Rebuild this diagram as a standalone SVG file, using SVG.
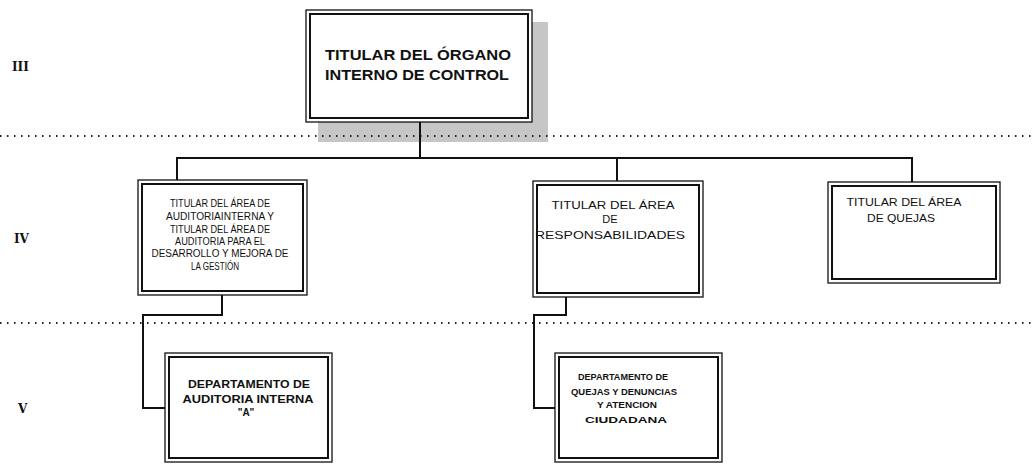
<svg xmlns="http://www.w3.org/2000/svg" width="1032" height="465" viewBox="0 0 1032 465">
<style>
.o{fill:none;stroke:#111;stroke-width:1.3}
.i{fill:none;stroke:#111;stroke-width:2}
.bg{fill:#fff}
.c{fill:none;stroke:#111;stroke-width:2}
.dot{fill:none;stroke:#222;stroke-width:2;stroke-dasharray:1.5 5.5}
.lv{font-family:"DejaVu Serif",serif;font-weight:bold;font-size:12px;fill:#111}
.t{font-family:"Liberation Sans",Arial,sans-serif;fill:#111;text-anchor:middle}
.b{font-family:"Liberation Sans",Arial,sans-serif;fill:#111;font-weight:bold}
</style>
<rect width="1032" height="465" fill="#fff"/>
<g id="shadow"><rect x="318" y="22" width="230" height="120" fill="#c6c6c6"/></g>
<g id="levels">
<line class="dot" x1="0" y1="136" x2="1032" y2="136"/>
<line class="dot" x1="0" y1="323" x2="1032" y2="323"/>
<text class="lv" x="12" y="71">III</text>
<text class="lv" x="14" y="243">IV</text>
<text class="lv" x="18" y="413">V</text>
</g>
<g id="connectors">
<polyline class="c" points="420,122 420,158"/>
<polyline class="c" points="177,180 177,158 912,158 912,182"/>
<polyline class="c" points="617,158 617,181"/>
<polyline class="c" points="222,295 222,315 143,315 143,408 165,408"/>
<polyline class="c" points="566,297 566,315 534,315 534,408 555,408"/>
</g>
<g id="n-titular-oic">
<rect class="bg o" x="306" y="10" width="226" height="112"/>
<rect class="i" x="310" y="14" width="218" height="104"/>
<text class="b" font-size="14" x="325" y="60" textLength="186" lengthAdjust="spacingAndGlyphs">TITULAR DEL ÓRGANO</text>
<text class="b" font-size="14" x="325" y="80" textLength="184" lengthAdjust="spacingAndGlyphs">INTERNO DE CONTROL</text>
</g>
<g id="n-auditoria">
<rect class="bg o" x="138" y="180" width="169" height="115"/>
<rect class="i" x="142" y="184" width="161" height="107"/>
<g class="t" font-size="10">
<text x="220" y="207" textLength="100" lengthAdjust="spacingAndGlyphs">TITULAR DEL ÁREA DE</text>
<text x="220" y="220" textLength="108" lengthAdjust="spacingAndGlyphs">AUDITORIAINTERNA Y</text>
<text x="220" y="233" textLength="100" lengthAdjust="spacingAndGlyphs">TITULAR DEL ÁREA DE</text>
<text x="220" y="245" textLength="90" lengthAdjust="spacingAndGlyphs">AUDITORIA PARA EL</text>
<text x="220" y="257" textLength="137" lengthAdjust="spacingAndGlyphs">DESARROLLO Y MEJORA DE</text>
<text x="215" y="270" textLength="48" lengthAdjust="spacingAndGlyphs">LA GESTIÓN</text>
</g>
</g>
<g id="n-responsabilidades">
<rect class="bg o" x="533" y="181" width="170" height="116"/>
<rect class="i" x="537" y="185" width="162" height="108"/>
<g class="t" font-size="11">
<text x="613" y="209" textLength="123" lengthAdjust="spacingAndGlyphs">TITULAR DEL  ÁREA</text>
<text x="610" y="223">DE</text>
<text x="610" y="239" textLength="150" lengthAdjust="spacingAndGlyphs">RESPONSABILIDADES</text>
</g>
</g>
<g id="n-quejas">
<rect class="bg o" x="828" y="182" width="172" height="101"/>
<rect class="i" x="832" y="186" width="164" height="93"/>
<g class="t" font-size="11">
<text x="904" y="206" textLength="115" lengthAdjust="spacingAndGlyphs">TITULAR DEL  ÁREA</text>
<text x="901" y="222" textLength="68" lengthAdjust="spacingAndGlyphs">DE QUEJAS</text>
</g>
</g>
<g id="n-depto-auditoria">
<rect class="bg o" x="165" y="353" width="167" height="109"/>
<rect class="i" x="169" y="357" width="159" height="101"/>
<g class="b" font-size="10" text-anchor="middle">
<text x="249" y="388" textLength="122" lengthAdjust="spacingAndGlyphs">DEPARTAMENTO DE</text>
<text x="248" y="403" textLength="131" lengthAdjust="spacingAndGlyphs">AUDITORIA INTERNA</text>
<text x="246" y="416">"A"</text>
</g>
</g>
<g id="n-depto-quejas">
<rect class="bg o" x="555" y="353" width="167" height="109"/>
<rect class="i" x="559" y="357" width="159" height="101"/>
<g class="b" font-size="9" text-anchor="middle">
<text x="623" y="380" textLength="90" lengthAdjust="spacingAndGlyphs">DEPARTAMENTO DE</text>
<text x="624" y="395" textLength="106" lengthAdjust="spacingAndGlyphs">QUEJAS Y DENUNCIAS</text>
<text x="627" y="408" textLength="60" lengthAdjust="spacingAndGlyphs">Y ATENCION</text>
<text x="626" y="423" textLength="82" lengthAdjust="spacingAndGlyphs">CIUDADANA</text>
</g>
</g>
</svg>
